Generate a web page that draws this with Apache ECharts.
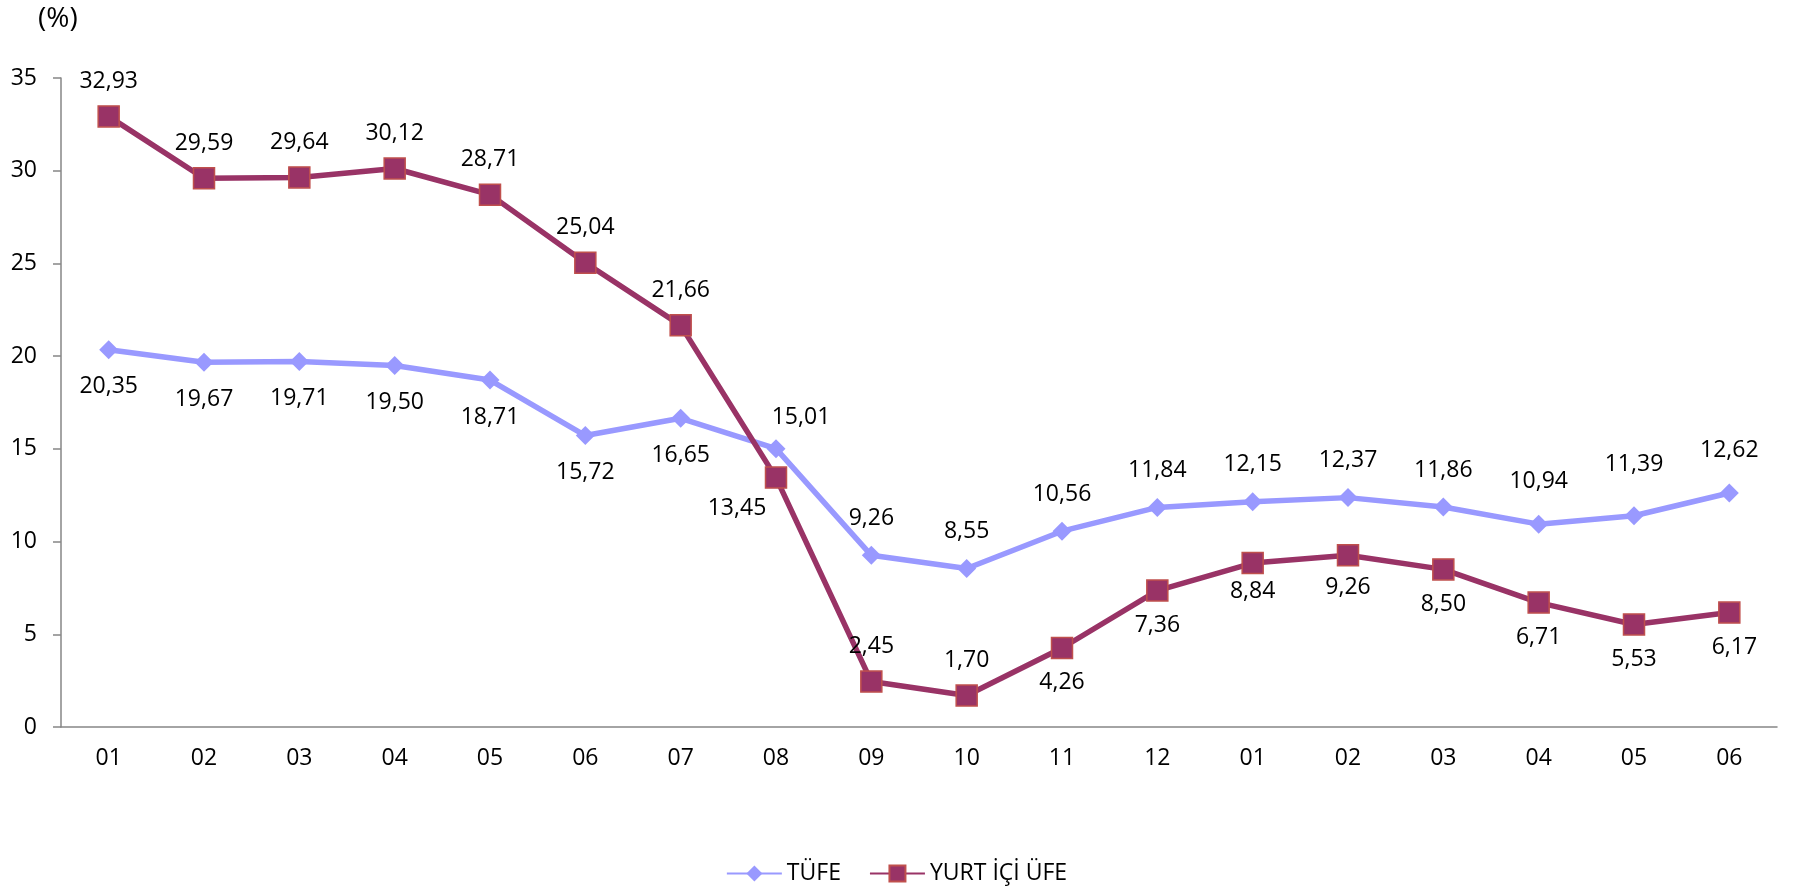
<!DOCTYPE html>
<html>
<head>
<meta charset="utf-8">
<script src="https://cdn.jsdelivr.net/npm/echarts@6/dist/echarts.min.js"></script>
<style>
  html, body { margin: 0; padding: 0; background: #fff; }
  #chart { width: 1793px; height: 892px; }
</style>
</head>
<body>
<div id="chart"></div>
<script>
const months = ['01', '02', '03', '04', '05', '06', '07', '08', '09', '10', '11', '12',
  '01', '02', '03', '04', '05', '06'];
const tufe = [20.35, 19.67, 19.71, 19.50, 18.71, 15.72, 16.65, 15.01, 9.26, 8.55,
  10.56, 11.84, 12.15, 12.37, 11.86, 10.94, 11.39, 12.62];
const ufe = [32.93, 29.59, 29.64, 30.12, 28.71, 25.04, 21.66, 13.45, 2.45, 1.70,
  4.26, 7.36, 8.84, 9.26, 8.50, 6.71, 5.53, 6.17];

// where each data label sits relative to its point
const tufeLabelSide = ['bottom', 'bottom', 'bottom', 'bottom', 'bottom', 'bottom', 'bottom',
  'top', 'top', 'top', 'top', 'top', 'top', 'top', 'top', 'top', 'top', 'top'];
const ufeLabelSide = ['top', 'top', 'top', 'top', 'top', 'top', 'top',
  'bottom', 'top', 'top', 'bottom', 'bottom', 'bottom', 'bottom', 'bottom', 'bottom', 'bottom', 'bottom'];

const FONT = '"Open Sans", sans-serif';
const FS = 23;
const AXIS_COLOR = '#868686';
const fmt = v => v.toFixed(2).replace('.', ',');

const chart = echarts.init(document.getElementById('chart'));

const buildData = (values, sides, tweaks) => values.map((v, i) => {
  const label = { position: sides[i] };
  if (tweaks[i]) Object.assign(label, tweaks[i]);
  return { value: v, label };
});

const tickAxis = (opts) => Object.assign({
  type: 'category',
  data: months,
  position: 'bottom',
  axisLine: { show: false },
  axisLabel: { show: false },
  splitLine: { show: false }
}, opts);

chart.setOption({
  animation: false,
  textStyle: { fontFamily: FONT },
  title: {
    text: '(%)',
    left: 33,
    top: 0,
    textStyle: { fontSize: 28, fontWeight: 'normal', color: '#000', fontFamily: FONT }
  },
  grid: { left: 61, right: 16, top: 78, bottom: 165 },
  legend: {
    bottom: 2,
    left: 'center',
    itemWidth: 55,
    itemHeight: 20,
    itemGap: 28,
    textStyle: { fontSize: FS, color: '#000', fontFamily: FONT },
    data: ['TÜFE', 'YURT İÇİ ÜFE']
  },
  xAxis: [
    {
      type: 'category',
      data: months,
      position: 'bottom',
      axisLine: { lineStyle: { color: AXIS_COLOR, width: 1.5 } },
      axisTick: { length: 8, lineStyle: { color: AXIS_COLOR, width: 1.5 } },
      axisLabel: { color: '#000', fontSize: FS, margin: 20, fontFamily: FONT },
      splitLine: { show: false }
    },
    tickAxis({ axisTick: { inside: true, length: 8, lineStyle: { color: AXIS_COLOR, width: 1.5 } } }),
    tickAxis({ axisTick: { alignWithLabel: true, length: 6, lineStyle: { color: AXIS_COLOR, width: 1.5 } } }),
    tickAxis({ axisTick: { alignWithLabel: true, inside: true, length: 6, lineStyle: { color: AXIS_COLOR, width: 1.5 } } })
  ],
  yAxis: {
    type: 'value',
    min: 0,
    max: 35,
    interval: 5,
    axisLine: { show: true, lineStyle: { color: AXIS_COLOR, width: 1.5 } },
    axisTick: { show: true, length: 8, lineStyle: { color: AXIS_COLOR, width: 1.5 } },
    axisLabel: { color: '#000', fontSize: FS, margin: 24, fontFamily: FONT },
    splitLine: { show: false }
  },
  series: [
    {
      name: 'TÜFE',
      type: 'line',
      xAxisIndex: 0,
      symbol: 'diamond',
      symbolSize: 19,
      lineStyle: { color: '#9999FF', width: 5.5 },
      itemStyle: { color: '#9999FF' },
      label: {
        show: true,
        distance: 16,
        fontSize: FS,
        color: '#000',
        fontFamily: FONT,
        formatter: p => fmt(p.value)
      },
      data: buildData(tufe, tufeLabelSide, {
        7: { offset: [25, 6] },
        15: { distance: 22 },
        16: { distance: 30 },
        17: { distance: 22 }
      }),
      z: 3
    },
    {
      name: 'YURT İÇİ ÜFE',
      type: 'line',
      xAxisIndex: 0,
      symbol: 'rect',
      symbolSize: 21,
      lineStyle: { color: '#993366', width: 5.5 },
      itemStyle: { color: '#993366', borderColor: '#C0504D', borderWidth: 1.5 },
      label: {
        show: true,
        distance: 12,
        fontSize: FS,
        color: '#000',
        fontFamily: FONT,
        formatter: p => fmt(p.value)
      },
      data: buildData(ufe, ufeLabelSide, {
        7: { offset: [-39, -4] },
        12: { distance: 6 },
        13: { distance: 9 },
        17: { offset: [5, 0] }
      }),
      z: 4
    }
  ]
});
</script>
</body>
</html>
